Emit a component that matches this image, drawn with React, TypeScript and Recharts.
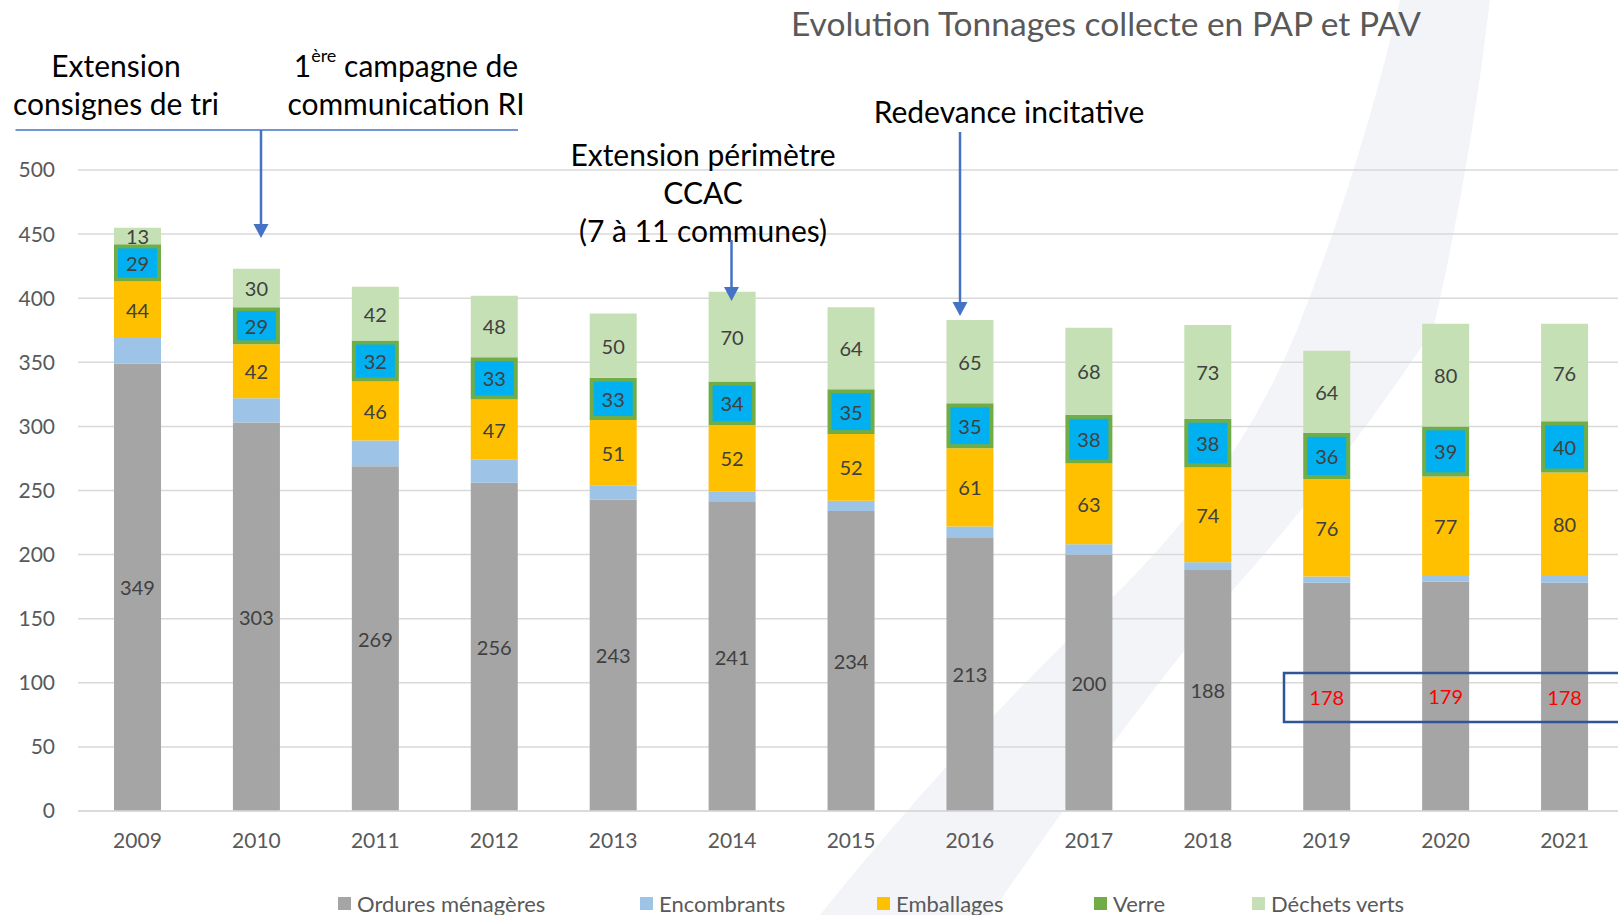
import React from 'react';
import { BarChart, Bar, XAxis, YAxis, CartesianGrid, LabelList, Legend } from 'recharts';

const years = ['2009', '2010', '2011', '2012', '2013', '2014', '2015', '2016', '2017', '2018', '2019', '2020', '2021'];
const orduresMenageres = [349, 303, 269, 256, 243, 241, 234, 213, 200, 188, 178, 179, 178];
const encombrants = [20, 19, 20, 18, 11, 8, 8, 9, 8, 6, 5, 5, 6];
const emballages = [44, 42, 46, 47, 51, 52, 52, 61, 63, 74, 76, 77, 80];
const verre = [29, 29, 32, 33, 33, 34, 35, 35, 38, 38, 36, 39, 40];
const dechetsVerts = [13, 30, 42, 48, 50, 70, 64, 65, 68, 73, 64, 80, 76];
const yTicks = [0, 50, 100, 150, 200, 250, 300, 350, 400, 450, 500];
const highlightedYears = ['2019', '2020', '2021'];

const seriesNames = ['Ordures ménagères', 'Encombrants', 'Emballages', 'Verre', 'Déchets verts'];
const seriesColors = ['#A5A5A5', '#9DC3E6', '#FFC000', '#70AD47', '#C5E0B4'];

const data = years.map((year, i) => ({
  year,
  om: orduresMenageres[i],
  enc: encombrants[i],
  emb: emballages[i],
  verre: verre[i],
  dv: dechetsVerts[i],
}));

const FONT = 'Lato, "Open Sans", sans-serif';
const LABEL_SIZE = 20;

const box = (p: any) => {
  const vb = p.viewBox && p.viewBox.width !== undefined ? p.viewBox : p;
  return { x: Number(vb.x), y: Number(vb.y), w: Number(vb.width), h: Number(vb.height) };
};

const CenterLabel = (p: any) => {
  const { x, y, w, h } = box(p);
  return (
    <text x={x + w / 2} y={y + h / 2} textAnchor="middle" dominantBaseline="central" fill="#404040" fontSize={LABEL_SIZE} fontFamily={FONT}>
      {p.value}
    </text>
  );
};

const OmLabel = (p: any) => {
  const { x, y, w, h } = box(p);
  const yr = p.index !== undefined ? years[p.index] : p.payload?.year;
  const red = highlightedYears.includes(yr);
  return (
    <text x={x + w / 2} y={y + h / 2} textAnchor="middle" dominantBaseline="central" fill={red ? '#FF0000' : '#404040'} fontSize={LABEL_SIZE} fontFamily={FONT}>
      {p.value}
    </text>
  );
};

const VerreLabel = (p: any) => {
  const { x, y, w, h } = box(p);
  const inset = 4;
  return (
    <g>
      <rect x={x + inset} y={y + inset} width={Math.max(0, w - inset * 2)} height={Math.max(0, h - inset * 2)} fill="#00B0F0" />
      <text x={x + w / 2} y={y + h / 2} textAnchor="middle" dominantBaseline="central" fill="#404040" fontSize={LABEL_SIZE} fontFamily={FONT}>
        {p.value}
      </text>
    </g>
  );
};

const legendX = [338, 640, 877, 1094, 1252];

const LegendContent = (props: any) => {
  const payload = [...(props.payload || [])].sort(
    (a: any, b: any) => seriesNames.indexOf(a.value) - seriesNames.indexOf(b.value)
  );
  return (
    <div style={{ position: 'relative', width: 1618, height: 30 }}>
      {payload.map((item: any, i: number) => (
        <div key={i} style={{ position: 'absolute', left: legendX[i], top: 0, height: 30, display: 'flex', alignItems: 'center', whiteSpace: 'nowrap' }}>
          <span style={{ display: 'inline-block', width: 13, height: 13, background: item.color, marginRight: 6 }} />
          <span style={{ fontFamily: FONT, fontSize: 22, color: '#595959' }}>{item.value}</span>
        </div>
      ))}
    </div>
  );
};

const Arrow = ({ x, y1, y2 }: { x: number; y1: number; y2: number }) => (
  <g>
    <line x1={x} y1={y1} x2={x} y2={y2 - 12} stroke="#4472C4" strokeWidth={2.5} />
    <polygon points={`${x - 7.5},${y2 - 14} ${x + 7.5},${y2 - 14} ${x},${y2}`} fill="#4472C4" />
  </g>
);

const Background = () => (
  <svg width={1618} height={915} style={{ position: 'absolute', left: 0, top: 0 }}>
    <path
      d="M1400,0 L1490,0 Q1470,170 1433,330 Q1340,470 1233,590 Q1110,740 990,915 L820,915 Q960,740 1120,590 Q1240,470 1297,330 Q1360,170 1400,0 Z"
      fill="#F3F4F8"
    />
  </svg>
);

const Annotations = () => (
  <svg width={1618} height={915} style={{ position: 'absolute', left: 0, top: 0, pointerEvents: 'none' }}>
    <text x={1106} y={23} textAnchor="middle" dominantBaseline="central" fill="#595959" fontSize={33.5} fontFamily={FONT}>
      Evolution Tonnages collecte en PAP et PAV
    </text>
    <g fontFamily={FONT} fontSize={30} fill="#000000" textAnchor="middle">
      <text x={116} y={65} dominantBaseline="central">Extension</text>
      <text x={116} y={103} dominantBaseline="central">consignes de tri</text>
      <text x={406} y={65} dominantBaseline="central">
        1<tspan fontSize={18} dy={-10}>ère</tspan>
        <tspan dy={10}> campagne de</tspan>
      </text>
      <text x={406} y={103} dominantBaseline="central">communication RI</text>
      <text x={703} y={154} dominantBaseline="central">Extension périmètre</text>
      <text x={703} y={192} dominantBaseline="central">CCAC</text>
      <text x={703} y={230} dominantBaseline="central">(7 à 11 communes)</text>
      <text x={1009} y={111} dominantBaseline="central">Redevance incitative</text>
    </g>
    <line x1={15.5} y1={130} x2={518} y2={130} stroke="#4472C4" strokeWidth={1.5} />
    <Arrow x={261} y1={130} y2={238} />
    <Arrow x={731.5} y1={240} y2={301} />
    <Arrow x={960} y1={132} y2={316} />
    <rect x={1284} y={673} width={400} height={49} fill="none" stroke="#2F5597" strokeWidth={2.5} />
  </svg>
);

export default function App() {
  return (
    <div style={{ position: 'absolute', left: 0, top: 0, width: 1618, height: 915, overflow: 'hidden', background: '#ffffff' }}>
      <Background />
      <div style={{ position: 'absolute', left: 0, top: 0 }}>
        <BarChart width={1624} height={915} data={data} margin={{ top: 170, right: 0, left: 0, bottom: 74 }} barSize={47}>
          <CartesianGrid vertical={false} stroke="#D9D9D9" strokeWidth={1.5} />
          <XAxis
            dataKey="year"
            height={30}
            axisLine={{ stroke: '#D9D9D9', strokeWidth: 1.5 }}
            tickLine={false}
            tickSize={0}
            tickMargin={22}
            tick={{ fill: '#595959', fontSize: 21, fontFamily: FONT }}
            interval={0}
          />
          <YAxis
            width={78}
            domain={[0, 500]}
            ticks={yTicks}
            axisLine={false}
            tickLine={false}
            tickSize={0}
            tickMargin={23}
            tick={{ fill: '#595959', fontSize: 21, fontFamily: FONT }}
          />
          <Legend
            layout="vertical"
            align="center"
            verticalAlign="middle"
            content={<LegendContent />}
            wrapperStyle={{ position: 'absolute', left: 0, top: 888, width: 1618, height: 30 }}
          />
          <Bar dataKey="om" name={seriesNames[0]} stackId="a" fill={seriesColors[0]} isAnimationActive={false}>
            <LabelList dataKey="om" content={<OmLabel />} />
          </Bar>
          <Bar dataKey="enc" name={seriesNames[1]} stackId="a" fill={seriesColors[1]} isAnimationActive={false} />
          <Bar dataKey="emb" name={seriesNames[2]} stackId="a" fill={seriesColors[2]} isAnimationActive={false}>
            <LabelList dataKey="emb" content={<CenterLabel />} />
          </Bar>
          <Bar dataKey="verre" name={seriesNames[3]} stackId="a" fill={seriesColors[3]} isAnimationActive={false}>
            <LabelList dataKey="verre" content={<VerreLabel />} />
          </Bar>
          <Bar dataKey="dv" name={seriesNames[4]} stackId="a" fill={seriesColors[4]} isAnimationActive={false}>
            <LabelList dataKey="dv" content={<CenterLabel />} />
          </Bar>
        </BarChart>
      </div>
      <Annotations />
    </div>
  );
}
